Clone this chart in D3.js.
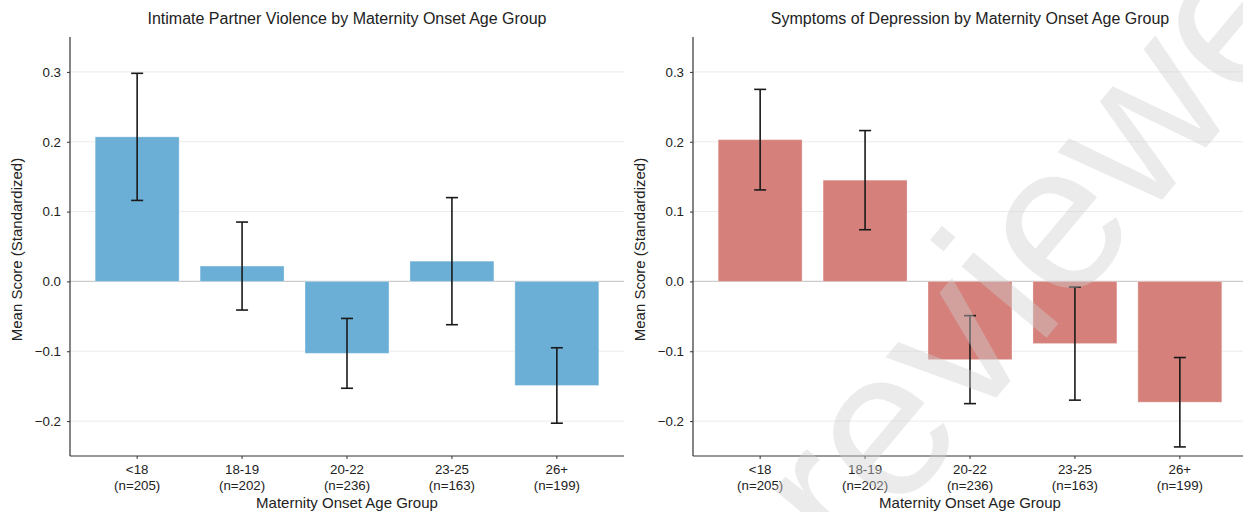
<!DOCTYPE html>
<meta charset="utf-8">
<style>
body { margin: 0; background: #fff; }
text { font-family: "Liberation Sans", Arial, sans-serif; fill: #222; }
.title { font-size: 16px; }
.tick-lbl { font-size: 13.3px; }
.axis-lbl { font-size: 15px; }
</style>
<svg width="1243" height="512"></svg>
<script src="https://cdn.jsdelivr.net/npm/d3@7"></script>
<script>

// data
var groups = ["<18", "18-19", "20-22", "23-25", "26+"];
var counts = [205, 202, 236, 163, 199];
var ipvMean = [0.207, 0.022, -0.103, 0.029, -0.149];
var ipvErr = [0.091, 0.063, 0.050, 0.091, 0.054];
var depMean = [0.203, 0.145, -0.112, -0.089, -0.173];
var depErr = [0.072, 0.071, 0.063, 0.081, 0.064];
var yTicks = [-0.2, -0.1, 0.0, 0.1, 0.2, 0.3];

var svg = d3.select("svg");
var yTop = 37, yBottom = 456, plotW = 554;

var y = d3.scaleLinear().domain([-0.25, 0.35]).range([yBottom, yTop]);
var fmt = function(d) { return d3.format(".1f")(d).replace("-", "\u2212"); };

function panel(left, title, means, errs, col) {
  var x = d3.scaleBand()
      .domain(groups)
      .range([left, left + plotW])
      .paddingInner(0.2)
      .paddingOuter(0.24);

  var g = svg.append("g");

  // gridlines
  g.selectAll(".grid")
    .data(yTicks.filter(function(d) { return d != 0; }))
    .enter().append("line")
      .attr("x1", left).attr("x2", left + plotW)
      .attr("y1", function(d) { return y(d); })
      .attr("y2", function(d) { return y(d); })
      .style("stroke", "#ebebeb")
      .style("stroke-width", 1);

  // zero line
  g.append("line")
    .attr("x1", left).attr("x2", left + plotW)
    .attr("y1", y(0)).attr("y2", y(0))
    .style("stroke", "#cccccc")
    .style("stroke-width", 1.3);

  var data = groups.map(function(k, i) {
    return {k: k, m: means[i], e: errs[i], n: counts[i]};
  });

  g.selectAll(".bar")
    .data(data)
    .enter().append("rect")
      .attr("x", function(d) { return x(d.k); })
      .attr("width", x.bandwidth())
      .attr("y", function(d) { return y(Math.max(0, d.m)); })
      .attr("height", function(d) { return Math.abs(y(d.m) - y(0)); })
      .style("fill", col)
      .style("stroke", "#fff")
      .style("stroke-opacity", 0.3)
      .style("stroke-width", 1);

  // error bars
  var cx = function(d) { return x(d.k) + x.bandwidth() / 2; };
  var eb = g.selectAll(".err").data(data).enter().append("g");
  eb.append("line")
    .attr("x1", cx).attr("x2", cx)
    .attr("y1", function(d) { return y(d.m + d.e); })
    .attr("y2", function(d) { return y(d.m - d.e); });
  eb.append("line")
    .attr("x1", function(d) { return cx(d) - 6; })
    .attr("x2", function(d) { return cx(d) + 6; })
    .attr("y1", function(d) { return y(d.m + d.e); })
    .attr("y2", function(d) { return y(d.m + d.e); });
  eb.append("line")
    .attr("x1", function(d) { return cx(d) - 6; })
    .attr("x2", function(d) { return cx(d) + 6; })
    .attr("y1", function(d) { return y(d.m - d.e); })
    .attr("y2", function(d) { return y(d.m - d.e); });
  eb.selectAll("line").style("stroke", "#1a1a1a").style("stroke-width", 1.6);

  // axes
  var yAxis = g.append("g")
    .attr("transform", "translate(" + left + ",0)")
    .call(d3.axisLeft(y).tickValues(yTicks).tickSize(3).tickPadding(6).tickFormat(fmt));
  yAxis.select(".domain").attr("d", "M0," + yTop + "V" + yBottom)
    .style("stroke", "#333").style("stroke-width", 1.2);
  yAxis.selectAll(".tick line").style("stroke", "#333");
  yAxis.selectAll("text").attr("class", "tick-lbl").style("font-family", null);

  var xAxis = g.append("g")
    .attr("transform", "translate(0," + yBottom + ")")
    .call(d3.axisBottom(x).tickSize(3).tickPadding(4));
  xAxis.select(".domain").attr("d", "M" + left + ",0H" + (left + plotW))
    .style("stroke", "#333").style("stroke-width", 1.2);
  xAxis.selectAll(".tick line").style("stroke", "#333");
  xAxis.selectAll(".tick text").remove();
  xAxis.selectAll(".tick").each(function(k, i) {
    var t = d3.select(this).append("text")
      .attr("class", "tick-lbl")
      .attr("text-anchor", "middle")
      .style("font-family", null);
    t.append("tspan").attr("x", 0).attr("y", 18).text(k);
    t.append("tspan").attr("x", 0).attr("y", 34).text("(n=" + counts[i] + ")");
  });

  svg.append("text")
    .attr("class", "title")
    .attr("x", left + plotW / 2)
    .attr("y", 24)
    .attr("text-anchor", "middle")
    .text(title);

  svg.append("text")
    .attr("class", "axis-lbl")
    .attr("x", left + plotW / 2)
    .attr("y", 508)
    .attr("text-anchor", "middle")
    .text("Maternity Onset Age Group");

  svg.append("text")
    .attr("class", "axis-lbl")
    .attr("transform", "translate(" + (left - 48) + "," + ((yTop + yBottom) / 2 + 3) + ") rotate(-90)")
    .attr("text-anchor", "middle")
    .text("Mean Score (Standardized)");
}

panel(70, "Intimate Partner Violence by Maternity Onset Age Group", ipvMean, ipvErr, "#6baed6");
panel(693, "Symptoms of Depression by Maternity Onset Age Group", depMean, depErr, "#d5807a");

// watermark
svg.append("text")
  .attr("transform", "translate(850,572) rotate(-50)")
  .style("font-size", "210px")
  .style("fill", "#cfcfcf")
  .style("fill-opacity", 0.42)
  .text("reviewer");

</script>
